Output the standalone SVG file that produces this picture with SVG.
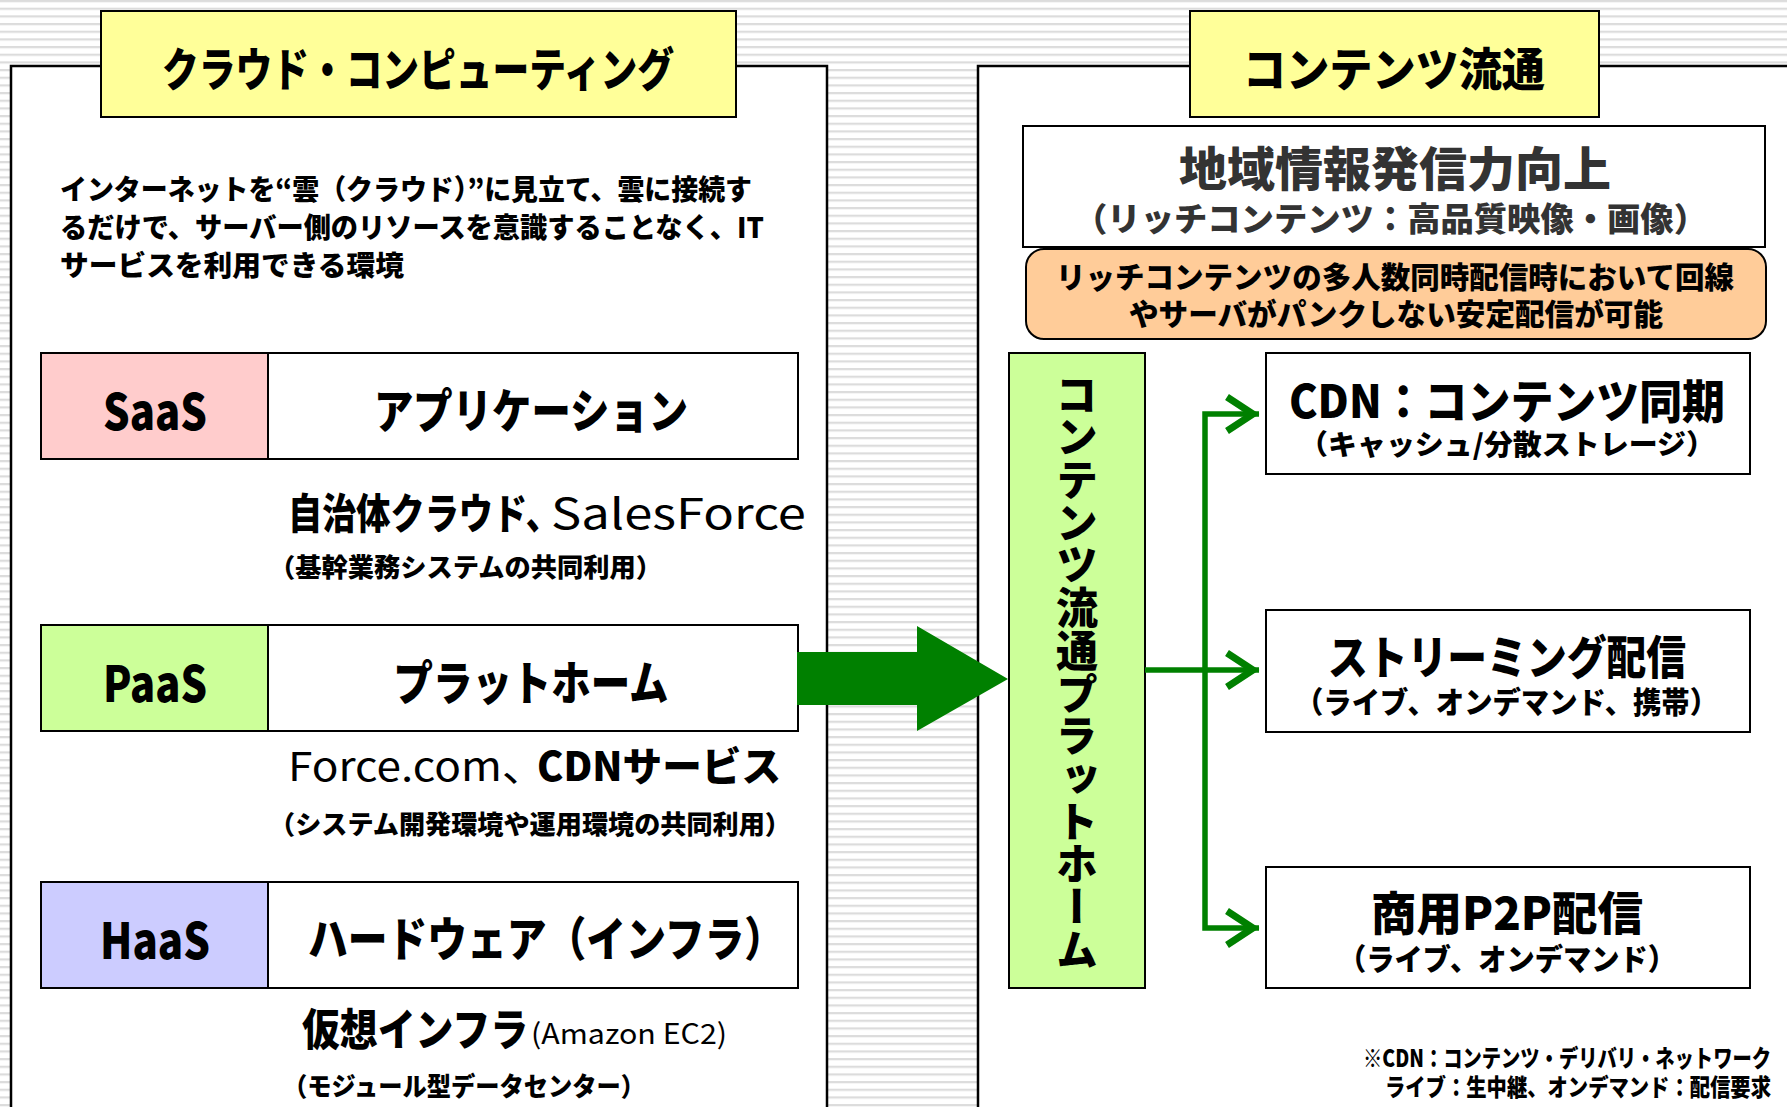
<svg xmlns="http://www.w3.org/2000/svg" width="1787" height="1107" viewBox="0 0 1787 1107">
<defs>
<pattern id="stripes" patternUnits="userSpaceOnUse" width="20" height="7.667"><rect width="20" height="7.667" fill="#fff"/><rect y="0" width="20" height="2.2" fill="#dcdcdc"/></pattern>
<marker id="ah" markerUnits="userSpaceOnUse" markerWidth="46" markerHeight="46" viewBox="-40 -23 46 46" refX="0" refY="0" orient="auto" overflow="visible"><path d="M-32,-17 L-6,0 L-32,17" fill="none" stroke="#008000" stroke-width="7" stroke-linejoin="miter" stroke-miterlimit="10"/></marker>
<style>
.jp{font-family:'Noto Sans CJK JP','Noto Sans',sans-serif;font-weight:900;fill:#000}
.lt{font-weight:400}
.box{fill:#fff;stroke:#000;stroke-width:2}
.panel{fill:#fff;stroke:#000;stroke-width:2.5}
.title{fill:#ffff99;stroke:#000;stroke-width:2}
.con{fill:none;stroke:#008000;stroke-width:5.5}
.mid{text-anchor:middle}
</style>
</defs>
<rect width="1787" height="1107" fill="url(#stripes)"/>

<g id="left-panel">
<rect class="panel" x="11" y="66" width="816" height="1100"/>
</g>
<g id="right-panel">
<rect class="panel" x="978" y="66" width="900" height="1100"/>
</g>

<g id="title-cloud">
<rect class="title" x="101" y="11" width="635" height="106"/>
<text class="jp mid" x="418" y="86" font-size="46" textLength="512" lengthAdjust="spacingAndGlyphs">クラウド・コンピューティング</text>
</g>
<g id="title-contents">
<rect class="title" x="1190" y="11" width="409" height="106"/>
<text class="jp mid" x="1394" y="86" font-size="46" textLength="302" lengthAdjust="spacingAndGlyphs">コンテンツ流通</text>
</g>

<g id="cloud-desc">
<text class="jp" x="60" y="200" font-size="28" textLength="692" lengthAdjust="spacingAndGlyphs">インターネットを“雲（クラウド）”に見立て、雲に接続す</text>
<text class="jp" x="60" y="238" font-size="28" textLength="704" lengthAdjust="spacingAndGlyphs">るだけで、サーバー側のリソースを意識することなく、IT</text>
<text class="jp" x="60" y="276" font-size="28" textLength="344" lengthAdjust="spacingAndGlyphs">サービスを利用できる環境</text>
</g>

<g id="saas">
<rect class="box" x="41" y="353" width="757" height="106"/>
<rect x="41" y="353" width="227" height="106" fill="#ffcccc" stroke="#000" stroke-width="2"/>
<text class="jp mid" x="155" y="430" font-size="50" textLength="104" lengthAdjust="spacingAndGlyphs">SaaS</text>
<text class="jp mid" x="531" y="428" font-size="47" textLength="314" lengthAdjust="spacingAndGlyphs">アプリケーション</text>
</g>
<g id="saas-examples">
<text class="jp" x="288" y="529" font-size="42" textLength="272" lengthAdjust="spacingAndGlyphs">自治体クラウド、</text>
<text class="jp lt" x="551" y="529" font-size="42" textLength="255" lengthAdjust="spacingAndGlyphs">SalesForce</text>
<text class="jp" x="269" y="577" font-size="26" textLength="393" lengthAdjust="spacingAndGlyphs">（基幹業務システムの共同利用）</text>
</g>

<g id="paas">
<rect class="box" x="41" y="625" width="757" height="106"/>
<rect x="41" y="625" width="227" height="106" fill="#ccff99" stroke="#000" stroke-width="2"/>
<text class="jp mid" x="155" y="702" font-size="50" textLength="104" lengthAdjust="spacingAndGlyphs">PaaS</text>
<text class="jp mid" x="531" y="700" font-size="47" textLength="275" lengthAdjust="spacingAndGlyphs">プラットホーム</text>
</g>
<g id="paas-examples">
<text class="jp lt" x="288" y="781" font-size="40" textLength="258" lengthAdjust="spacingAndGlyphs">Force.com、</text>
<text class="jp" x="537" y="781" font-size="40" textLength="244" lengthAdjust="spacingAndGlyphs">CDNサービス</text>
<text class="jp" x="269" y="834" font-size="26" textLength="522" lengthAdjust="spacingAndGlyphs">（システム開発環境や運用環境の共同利用）</text>
</g>

<g id="haas">
<rect class="box" x="41" y="882" width="757" height="106"/>
<rect x="41" y="882" width="227" height="106" fill="#ccccff" stroke="#000" stroke-width="2"/>
<text class="jp mid" x="155" y="959" font-size="50" textLength="110" lengthAdjust="spacingAndGlyphs">HaaS</text>
<text class="jp" x="308" y="956" font-size="47" textLength="476" lengthAdjust="spacingAndGlyphs">ハードウェア（インフラ）</text>
</g>
<g id="haas-examples">
<text class="jp" x="302" y="1046" font-size="44" textLength="226" lengthAdjust="spacingAndGlyphs">仮想インフラ</text>
<text class="jp lt" x="531" y="1044" font-size="28" textLength="196" lengthAdjust="spacingAndGlyphs">(Amazon EC2)</text>
<text class="jp" x="283" y="1096" font-size="26" textLength="362" lengthAdjust="spacingAndGlyphs">（モジュール型データセンター）</text>
</g>

<g id="regional">
<rect class="box" x="1023" y="126" width="742" height="121"/>
<text class="jp mid" x="1395" y="186" font-size="47" textLength="432" lengthAdjust="spacingAndGlyphs" style="fill:#333">地域情報発信力向上</text>
<text class="jp" x="1074" y="231" font-size="33" textLength="633" lengthAdjust="spacingAndGlyphs" style="fill:#333">（リッチコンテンツ：高品質映像・画像）</text>
</g>
<g id="stable-delivery">
<rect x="1026" y="249" width="740" height="90" rx="18" ry="18" fill="#ffcc99" stroke="#000" stroke-width="2"/>
<text class="jp mid" x="1395" y="288" font-size="30" textLength="678" lengthAdjust="spacingAndGlyphs">リッチコンテンツの多人数同時配信時において回線</text>
<text class="jp mid" x="1396" y="325" font-size="30" textLength="534" lengthAdjust="spacingAndGlyphs">やサーバがパンクしない安定配信が可能</text>
</g>

<g id="platform">
<rect x="1009" y="353" width="136" height="635" fill="#ccff99" stroke="#000" stroke-width="2"/>
<text class="jp" x="1077" y="373" font-size="42" style="writing-mode:vertical-rl" textLength="598" lengthAdjust="spacingAndGlyphs">コンテンツ流通プラットホーム</text>
</g>

<g id="cdn">
<rect class="box" x="1266" y="353" width="484" height="121"/>
<text class="jp mid" x="1507" y="418" font-size="46" textLength="436" lengthAdjust="spacingAndGlyphs">CDN：コンテンツ同期</text>
<text class="jp" x="1299" y="455" font-size="28" textLength="416" lengthAdjust="spacingAndGlyphs">（キャッシュ/分散ストレージ）</text>
</g>
<g id="streaming">
<rect class="box" x="1266" y="610" width="484" height="122"/>
<text class="jp mid" x="1507" y="674" font-size="46" textLength="358" lengthAdjust="spacingAndGlyphs">ストリーミング配信</text>
<text class="jp" x="1295" y="713" font-size="30" textLength="423" lengthAdjust="spacingAndGlyphs">（ライブ、オンデマンド、携帯）</text>
</g>
<g id="p2p">
<rect class="box" x="1266" y="867" width="484" height="121"/>
<text class="jp mid" x="1507" y="930" font-size="46" textLength="272" lengthAdjust="spacingAndGlyphs">商用P2P配信</text>
<text class="jp" x="1338" y="970" font-size="30" textLength="338" lengthAdjust="spacingAndGlyphs">（ライブ、オンデマンド）</text>
</g>

<g id="footnote">
<text class="jp" x="1363" y="1067" font-size="24" textLength="408" lengthAdjust="spacingAndGlyphs">※CDN：コンテンツ・デリバリ・ネットワーク</text>
<text class="jp" x="1385" y="1096" font-size="24" textLength="386" lengthAdjust="spacingAndGlyphs">ライブ：生中継、オンデマンド：配信要求</text>
</g>

<g id="connectors">
<polygon points="797,652 917,652 917,626 1008,679 917,731 917,705 797,705" fill="#008000"/>
<path class="con" d="M1145,670 H1259" marker-end="url(#ah)"/>
<path class="con" d="M1205,670 V414 H1259" marker-end="url(#ah)"/>
<path class="con" d="M1205,670 V928 H1259" marker-end="url(#ah)"/>
</g>
</svg>
